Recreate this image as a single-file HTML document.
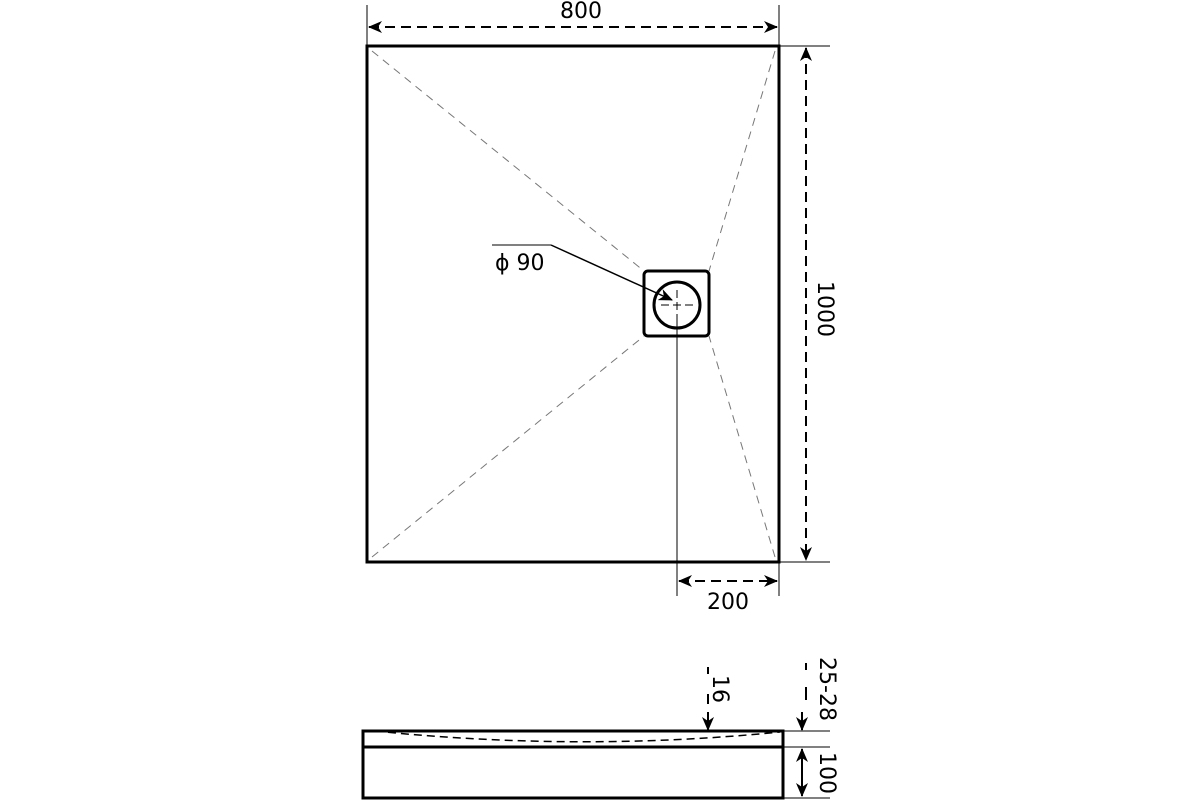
<!DOCTYPE html>
<html><head><style>body{margin:0;background:#fff}svg{display:block}</style></head><body>
<svg width="1200" height="800" xmlns="http://www.w3.org/2000/svg" font-family="DejaVu Sans, sans-serif" font-size="22">
<defs><marker id="a" markerWidth="14" markerHeight="12" refX="13" refY="6" orient="auto-start-reverse" markerUnits="userSpaceOnUse"><path d="M0,0 L14,6 L0,12 L4,6 Z" fill="#000"/></marker></defs>
<g fill="none" stroke="#000">
<rect x="367" y="46" width="412" height="516" stroke-width="3"/>
<g stroke="#777" stroke-width="1" stroke-dasharray="8,6">
<line x1="372" y1="51" x2="644" y2="271"/><line x1="775" y1="51" x2="709" y2="271"/>
<line x1="372" y1="557" x2="644" y2="336"/><line x1="775" y1="557" x2="709" y2="336"/>
</g>
<rect x="644" y="271" width="65" height="65" rx="4" stroke-width="3"/>
<circle cx="677" cy="305" r="23" stroke-width="3"/>
<g stroke-width="1" stroke-dasharray="8,4"><line x1="661" y1="305" x2="693" y2="305"/><line x1="677" y1="290" x2="677" y2="320"/></g>
<line x1="677" y1="320" x2="677" y2="596" stroke-width="1"/>
<line x1="492" y1="245" x2="551" y2="245" stroke-width="1"/>
<line x1="551" y1="245" x2="672" y2="300" stroke-width="1.5" marker-end="url(#a)"/>
<g stroke-width="1"><line x1="367" y1="5" x2="367" y2="46"/><line x1="779" y1="5" x2="779" y2="46"/>
<line x1="779" y1="46" x2="830" y2="46"/><line x1="779" y1="562" x2="830" y2="562"/>
<line x1="779" y1="562" x2="779" y2="596"/></g>
<g stroke-width="2" stroke-dasharray="10,6">
<line x1="369" y1="27" x2="777" y2="27" marker-end="url(#a)" marker-start="url(#a)"/>
<line x1="806" y1="48" x2="806" y2="560" marker-end="url(#a)" marker-start="url(#a)"/>
<line x1="679" y1="581" x2="777" y2="581" marker-end="url(#a)" marker-start="url(#a)"/>
</g>
<rect x="363" y="731" width="420" height="67" stroke-width="3"/>
<line x1="363" y1="747" x2="783" y2="747" stroke-width="3"/>
<path d="M375,731 Q580,752 780,732" stroke-width="1.5" stroke-dasharray="8,5"/>
<g stroke-width="1"><line x1="783" y1="731" x2="830" y2="731"/><line x1="783" y1="747" x2="830" y2="747"/><line x1="783" y1="798" x2="830" y2="798"/></g>
<g stroke-width="2"><line x1="708" y1="712" x2="708" y2="730" marker-end="url(#a)"/><line x1="802" y1="712" x2="802" y2="730" marker-end="url(#a)"/>
<line x1="802" y1="772" x2="802" y2="749" marker-end="url(#a)"/><line x1="802" y1="772" x2="802" y2="796" marker-end="url(#a)"/>
<line x1="708" y1="667" x2="708" y2="674"/><line x1="708" y1="694" x2="708" y2="704"/>
<line x1="806" y1="663" x2="806" y2="670"/><line x1="806" y1="687" x2="806" y2="700"/></g>
</g>
<g fill="#000">
<text x="581" y="18" text-anchor="middle">800</text>
<text x="728" y="609" text-anchor="middle">200</text>
<text x="495" y="270">ϕ 90</text>
<text transform="translate(818,309) rotate(90)" text-anchor="middle">1000</text>
<text transform="translate(713,689) rotate(90)" text-anchor="middle">16</text>
<text transform="translate(820,689) rotate(90)" text-anchor="middle">25-28</text>
<text transform="translate(820,773) rotate(90)" text-anchor="middle">100</text>
</g>
</svg>
</body></html>
